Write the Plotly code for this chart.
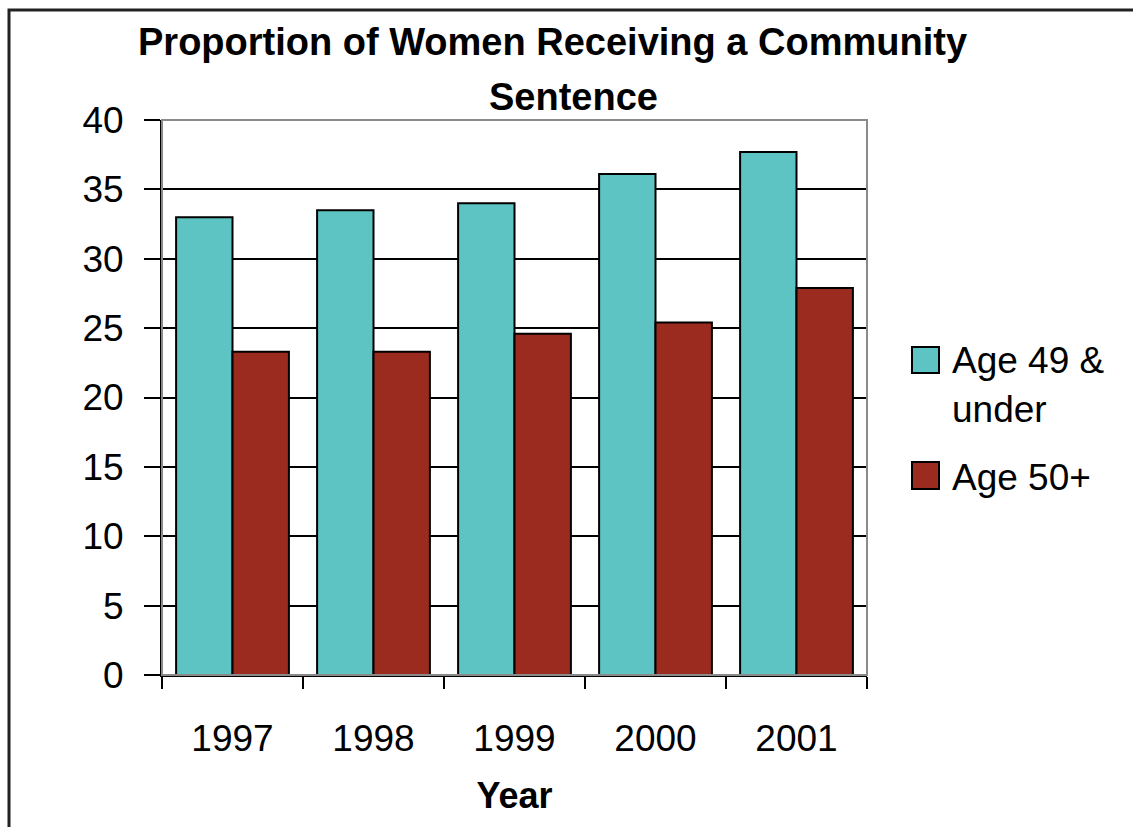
import plotly.graph_objects as go

years = ["1997", "1998", "1999", "2000", "2001"]
age_49_under = [33.0, 33.5, 34.0, 36.1, 37.7]
age_50_plus = [23.3, 23.3, 24.6, 25.4, 27.9]
series_names = ["Age 49 &<br>under", "Age 50+"]
y_ticks = [0, 5, 10, 15, 20, 25, 30, 35, 40]

TEAL = "#5EC4C3"
RED = "#9B2B1F"
FONT = "Liberation Sans"

W, H = 1133, 827
L, R, T, B = 162, 867, 120, 675
PW, PH = R - L, B - T


def px(x):
    return (x - L) / PW


def py(y):
    return (B - y) / PH


fig = go.Figure()
fig.add_trace(go.Bar(x=years, y=age_49_under, name=series_names[0],
                     marker=dict(color=TEAL, line=dict(color="black", width=2))))
fig.add_trace(go.Bar(x=years, y=age_50_plus, name=series_names[1],
                     marker=dict(color=RED, line=dict(color="black", width=2))))

shapes = [
    # plot area border (grey)
    dict(type="rect", xref="paper", yref="paper", x0=0, x1=1, y0=0, y1=1,
         line=dict(color="#8a8a8a", width=2), layer="above"),
    # outer chart border
    dict(type="rect", xref="paper", yref="paper", x0=px(9), x1=px(1145),
         y0=py(840), y1=py(10), line=dict(color="#222", width=3), layer="above"),
    # legend swatches
    dict(type="rect", xref="paper", yref="paper", x0=px(912), x1=px(939),
         y0=py(373), y1=py(347), fillcolor=TEAL, line=dict(color="black", width=2)),
    dict(type="rect", xref="paper", yref="paper", x0=px(912), x1=px(939),
         y0=py(489), y1=py(462), fillcolor=RED, line=dict(color="black", width=2)),
]

annotations = [
    dict(text="<b>Proportion of Women Receiving a Community</b>", xref="paper", yref="paper",
         x=px(552), y=py(42), xanchor="center", yanchor="middle", showarrow=False,
         font=dict(family=FONT, size=38, color="black")),
    dict(text="<b>Sentence</b>", xref="paper", yref="paper",
         x=px(573), y=py(97), xanchor="center", yanchor="middle", showarrow=False,
         font=dict(family=FONT, size=38, color="black")),
    dict(text="Age 49 &", xref="paper", yref="paper", x=px(950), y=py(360),
         xanchor="left", yanchor="middle", showarrow=False,
         font=dict(family=FONT, size=37, color="black")),
    dict(text="under", xref="paper", yref="paper", x=px(950), y=py(409),
         xanchor="left", yanchor="middle", showarrow=False,
         font=dict(family=FONT, size=37, color="black")),
    dict(text="Age 50+", xref="paper", yref="paper", x=px(950), y=py(477),
         xanchor="left", yanchor="middle", showarrow=False,
         font=dict(family=FONT, size=37, color="black")),
]

fig.update_layout(
    width=W, height=H,
    margin=dict(l=L, r=W - R, t=T, b=H - B, pad=0),
    paper_bgcolor="white", plot_bgcolor="white",
    barmode="group", bargap=0.2, bargroupgap=0,
    showlegend=False,
    shapes=shapes, annotations=annotations,
    font=dict(family=FONT, color="black"),
    xaxis=dict(
        showline=True, linecolor="black", linewidth=2,
        ticks="outside", tickson="boundaries", ticklen=12, tickwidth=2, tickcolor="black",
        tickfont=dict(family=FONT, size=37, color="black"),
        ticklabelstandoff=30,
        showgrid=False,
        title=dict(text="<b>Year</b>", font=dict(family=FONT, size=36, color="black"), standoff=24),
    ),
    yaxis=dict(
        range=[0, 40], tickvals=y_ticks, ticktext=[str(v) for v in y_ticks],
        showline=True, linecolor="black", linewidth=2,
        ticks="outside", ticklen=16, tickwidth=2, tickcolor="black",
        tickfont=dict(family=FONT, size=37, color="black"),
        ticklabelstandoff=13,
        showgrid=True, gridcolor="black", gridwidth=2,
        zeroline=False,
    ),
)

fig.write_html("out.html")
